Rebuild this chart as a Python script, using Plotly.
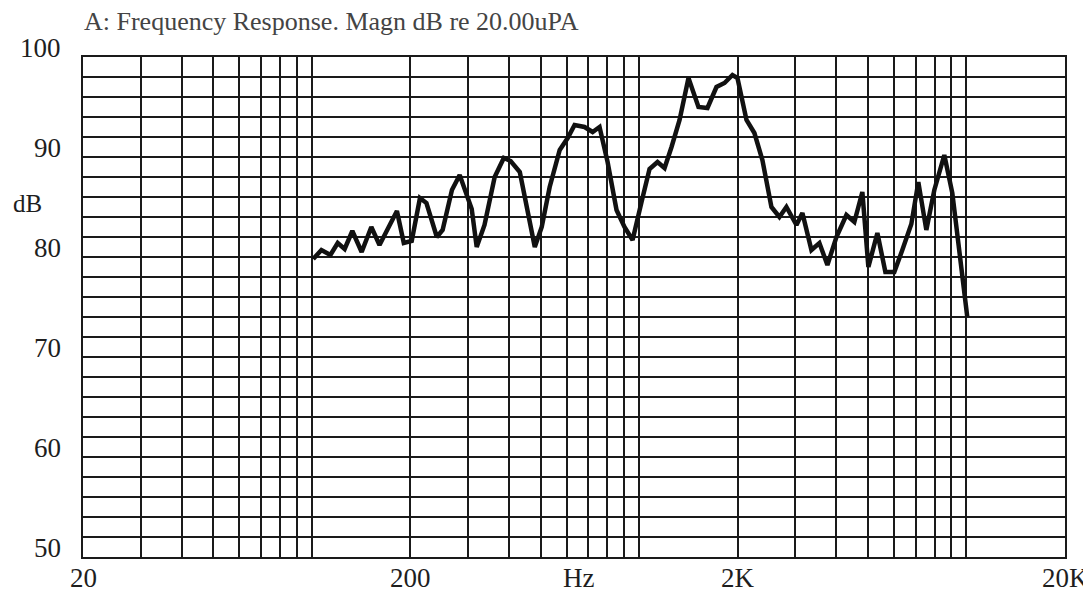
import numpy as np
import plotly.graph_objects as go

# ---- data ----
freq_hz = [101, 107, 114, 120, 126, 133, 142, 152, 161, 182, 191, 202, 214, 224, 241, 251,
           268, 283, 308, 319, 337, 362, 386, 405, 432, 457, 480, 504, 533, 572, 605, 635,
           681, 721, 757, 801, 853, 902, 955, 1017, 1076, 1138, 1196, 1256, 1329, 1415,
           1518, 1617, 1723, 1823, 1928, 1997, 2128, 2250, 2380, 2536, 2683, 2818, 3024,
           3154, 3360, 3554, 3760, 4006, 4297, 4545, 4808, 5016, 5344, 5653, 6020, 6369,
           6786, 7128, 7541, 7977, 8557, 9053, 9508, 10058]
magn_db = [79.8, 80.7, 80.2, 81.4, 80.8, 82.6, 80.5, 83.0, 81.2, 84.6, 81.4, 81.6, 85.9, 85.4,
           82.0, 82.7, 86.7, 88.2, 84.8, 81.0, 83.2, 88.0, 89.9, 89.6, 88.5, 84.7, 81.0, 83.0,
           87.0, 90.7, 91.9, 93.2, 93.0, 92.5, 93.0, 89.5, 84.7, 83.0, 81.7, 85.5, 88.8, 89.5,
           88.9, 91.0, 93.7, 97.9, 95.0, 94.9, 97.0, 97.4, 98.2, 97.9, 93.7, 92.4, 89.7, 85.0,
           84.0, 85.0, 83.2, 84.4, 80.7, 81.4, 79.2, 82.0, 84.2, 83.5, 86.5, 79.0, 82.4, 78.5,
           78.5, 80.7, 83.3, 87.5, 82.7, 86.7, 90.2, 86.4, 81.0, 74.0]

x_grid = [20, 30, 40, 50, 60, 70, 80, 90, 100, 200, 300, 400, 500, 600, 700, 800, 900,
          1000, 2000, 3000, 4000, 5000, 6000, 7000, 8000, 9000, 10000, 20000]
x_label_vals = [20, 200, 2000, 20000]
x_label_text = ["20", "200", "2K", "20K"]
x_unit_pos = 655
x_unit = "Hz"
y_grid = list(range(50, 101, 2))
y_labels = [50, 60, 70, 80, 90, 100]
y_unit = "dB"
title = "A: Frequency Response. Magn dB re 20.00uPA"

FONT = "Liberation Serif, Times New Roman, serif"
TXT = "#1e1e1e"

fig = go.Figure()
fig.add_trace(go.Scatter(x=freq_hz, y=magn_db, mode="lines",
                         line=dict(color="#111111", width=4.5), showlegend=False,
                         hoverinfo="skip"))

# page body has an 8px margin, so the figure is sized/offset to compensate
fig.update_layout(
    width=1083, height=585,
    margin=dict(l=75, r=26, t=49, b=36),
    paper_bgcolor="white", plot_bgcolor="white",
    showlegend=False,
    xaxis=dict(type="log", range=[np.log10(20), np.log10(20000)],
               tickvals=x_grid, showticklabels=False,
               showgrid=True, gridcolor="#1a1a1a", gridwidth=2,
               showline=True, linecolor="#1a1a1a", linewidth=2, mirror=True,
               ticks="", automargin=False, zeroline=False),
    yaxis=dict(range=[50, 100], tickvals=y_grid, showticklabels=False,
               showgrid=True, gridcolor="#1a1a1a", gridwidth=2,
               showline=True, linecolor="#1a1a1a", linewidth=2, mirror=True,
               ticks="", automargin=False, zeroline=False),
)

for v in y_labels:
    fig.add_annotation(x=0, xref="paper", y=v, yref="y", text=str(v), showarrow=False,
                       xanchor="right", yanchor="middle", xshift=-20, yshift=9,
                       font=dict(family=FONT, size=27, color=TXT))

for v, t in zip(x_label_vals, x_label_text):
    fig.add_annotation(x=np.log10(v), xref="x", y=0, yref="paper", text=t, showarrow=False,
                       xanchor="center", yanchor="middle", yshift=-21,
                       font=dict(family=FONT, size=27, color=TXT))

fig.add_annotation(x=0, xref="paper", y=85.4, yref="y", text=y_unit, showarrow=False,
                   xanchor="center", yanchor="middle", xshift=-56,
                   font=dict(family=FONT, size=25, color=TXT))

fig.add_annotation(x=np.log10(x_unit_pos), xref="x", y=0, yref="paper", text=x_unit,
                   showarrow=False, xanchor="center", yanchor="middle", yshift=-21,
                   font=dict(family=FONT, size=27, color=TXT))

fig.add_annotation(x=0, xref="paper", y=1, yref="paper", text=title, showarrow=False,
                   xanchor="left", yanchor="middle", xshift=-1, yshift=36,
                   font=dict(family=FONT, size=26, color="#444444"))

fig.write_html("out.html")
